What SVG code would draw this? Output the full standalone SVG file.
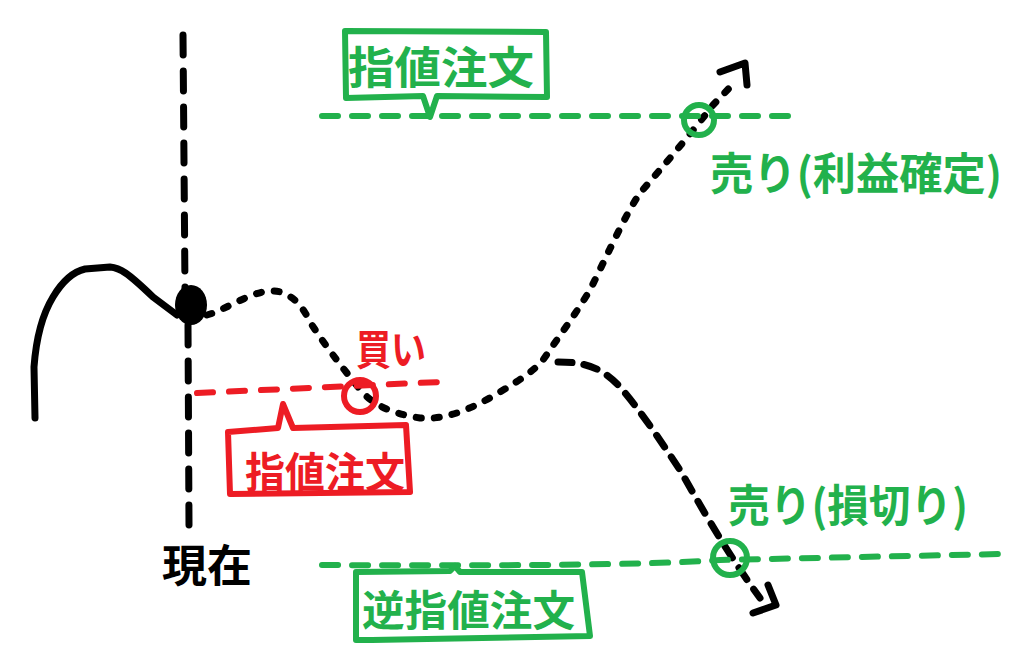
<svg xmlns="http://www.w3.org/2000/svg" width="1024" height="661" viewBox="0 0 1024 661">
<style>
.k{fill:none;stroke:#000;stroke-width:7;stroke-linecap:round;stroke-linejoin:round}
.g{fill:none;stroke:#22b14c;stroke-width:6;stroke-linecap:round;stroke-linejoin:round}
.r{fill:none;stroke:#ed1c24;stroke-width:6;stroke-linecap:round;stroke-linejoin:round}
.dash{stroke-dasharray:20 16}
.dot{stroke-dasharray:5 13}
.t{font-family:"Noto Sans CJK JP","Noto Sans CJK SC",sans-serif;font-weight:bold}
.tg{fill:#22b14c}.tr{fill:#ed1c24}.tk{fill:#000}
</style>
<rect width="1024" height="661" fill="#fff"/>
<g id="connectors">
<path class="k dash" d="M183,35 L185,290"/>
<path class="k dash" d="M188,325 L189,525"/>
<path class="k" d="M35,418 L34,367 C36,340 42,315 53,297 C62,282 72,272 85,269 L110,267 C120,268 127,272 153,297 L177,315"/>
<path class="k dot" d="M207,315 C225,310 245,295 267,291 C285,289 300,300 310,322 C325,345 340,365 363,393 C375,405 390,413 420,418 C445,420 470,410 500,392 C520,380 535,370 543,360 C560,335 575,315 590,290 C605,260 625,215 640,193 C660,170 690,135 713,105 L735,82"/>
<path class="k" d="M720,72 L745,63 L747,85"/>
<path class="k dash" style="stroke-dasharray:14 12" d="M558,362 C580,362 600,365 620,387 C640,410 660,440 680,470 C700,505 725,550 760,598"/>
<path class="k" d="M768,585 L776,605 L753,613"/>
<path class="g dash" style="stroke-dasharray:16 14" d="M322,116 L790,116"/>
<path class="g dash" style="stroke-dasharray:16 14" d="M322,565 C500,566 650,565 720,560 L1000,554"/>
<path class="r dash" style="stroke-dasharray:16 16" d="M197,393 L440,382"/>
</g>
<g id="node-top-limit">
<path class="g" d="M345,31 L546,32 L547,97 L437,96 L430,117 L423,96 L346,98 Z"/>
<text class="t tg" x="348" y="84" font-size="44" textLength="186" lengthAdjust="spacingAndGlyphs">指値注文</text>
</g>
<g id="node-sell-profit">
<circle class="g" cx="699" cy="120" r="15"/>
<text class="t tg" x="710" y="190" font-size="44" textLength="292" lengthAdjust="spacingAndGlyphs">売り(利益確定)</text>
</g>
<g id="node-buy">
<circle class="r" cx="360" cy="396" r="16"/>
<text class="t tr" x="356" y="365" font-size="42" textLength="70" lengthAdjust="spacingAndGlyphs">買い</text>
</g>
<g id="node-red-limit">
<path class="r" d="M228,432 L278,428 L283,404 L293,428 L406,425 L410,492 L230,494 Z"/>
<text class="t tr" x="245" y="488" font-size="42" textLength="160" lengthAdjust="spacingAndGlyphs">指値注文</text>
</g>
<g id="node-now">
<ellipse cx="191" cy="305" rx="16" ry="20" fill="#000"/>
<text class="t tk" x="162" y="582" font-size="44" textLength="90" lengthAdjust="spacingAndGlyphs">現在</text>
</g>
<g id="node-sell-loss">
<circle class="g" cx="730" cy="558" r="17"/>
<text class="t tg" x="728" y="522" font-size="44" textLength="240" lengthAdjust="spacingAndGlyphs">売り(損切り)</text>
</g>
<g id="node-stop-limit">
<path class="g" d="M356,572 L450,571 L455,566 L460,572 L582,572 L590,636 L372,640 L356,640 Z"/>
<text class="t tg" x="362" y="626" font-size="42" textLength="213" lengthAdjust="spacingAndGlyphs">逆指値注文</text>
</g>
</svg>
